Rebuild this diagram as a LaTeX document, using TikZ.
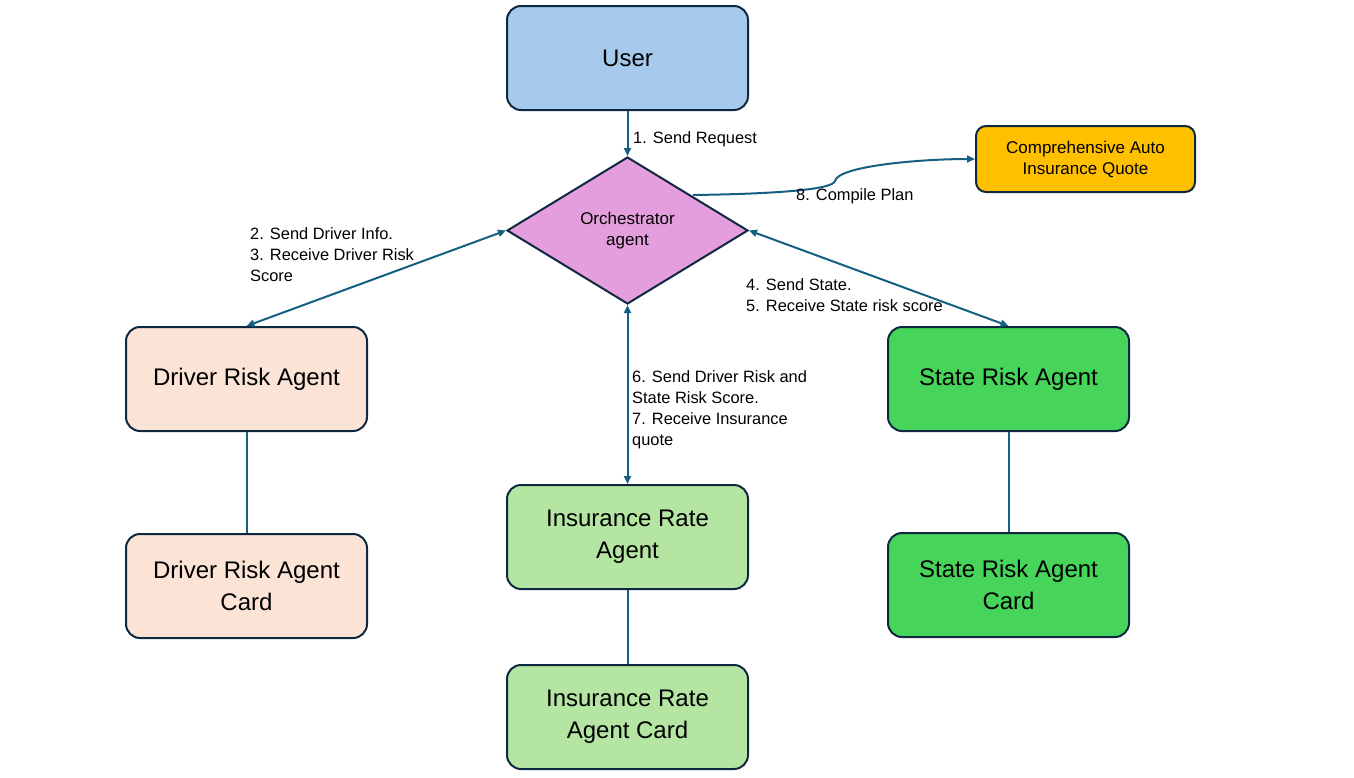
\documentclass[tikz,border=0pt]{standalone}
\usepackage{fontspec}
\setmainfont{Liberation Sans}
\usetikzlibrary{arrows.meta,shapes.geometric}
\definecolor{bordc}{HTML}{0E2841}
\definecolor{arrc}{HTML}{156082}
\definecolor{userc}{HTML}{A6CAEC}
\definecolor{orchc}{HTML}{E59EDD}
\definecolor{drvc}{HTML}{FBE3D6}
\definecolor{insc}{HTML}{B4E5A2}
\definecolor{statec}{HTML}{47D45A}
\definecolor{quotec}{HTML}{FFC000}
\tikzset{
  box/.style={draw=bordc,line width=2pt,rounded corners=14pt,minimum width=241pt,minimum height=104pt,
    align=center,font=\fontsize{24}{32}\selectfont,inner sep=0pt},
  conn/.style={draw=arrc,line width=2pt},
  arr/.style={conn,-{Triangle[length=8pt,width=7pt]}},
  barr/.style={conn,{Triangle[length=8pt,width=7pt]}-{Triangle[length=8pt,width=7pt]}},
  lbl/.style={font=\fontsize{16.4}{21}\selectfont,align=left,anchor=north west,inner sep=0pt},
}
\begin{document}
\begin{tikzpicture}[x=1pt,y=-1pt]
\useasboundingbox (0,0) rectangle (1354,777);
\node[box,fill=userc] (user) at (627.5,58) {User};
\node[diamond,draw=bordc,line width=2pt,fill=orchc,minimum width=241pt,minimum height=147pt,inner sep=0pt,
  aspect=1.64,align=center,font=\fontsize{17}{21}\selectfont] (orch) at (627.5,230.5) {Orchestrator\\agent};
\node[box,fill=quotec,minimum width=219pt,minimum height=66pt,rounded corners=10pt,font=\fontsize{17}{21}\selectfont] (quote) at (1085.5,159) {Comprehensive Auto\\Insurance Quote};
\node[box,fill=drvc] (drv) at (246.5,379) {Driver Risk Agent};
\node[box,fill=drvc] (drvcard) at (246.5,586) {Driver Risk Agent\\Card};
\node[box,fill=insc] (ins) at (627.5,537) {Insurance Rate\\Agent};
\node[box,fill=insc] (inscard) at (627.5,717) {Insurance Rate\\Agent Card};
\node[box,fill=statec] (st) at (1008.5,379) {State Risk Agent};
\node[box,fill=statec] (stcard) at (1008.5,585) {State Risk Agent\\Card};

\draw[arr] (user.south) -- (orch.north);
\draw[barr] (orch.west) -- (drv.north);
\draw[barr] (orch.east) -- (st.north);
\draw[barr] (orch.south) -- (ins.north);
\coordinate (cs) at (693,195);
\draw[arr] (cs) .. controls (770,194) and (833,190) .. (835,181) .. controls (838,166) and (920,159) .. (quote.west);
\draw[conn] (drv.south) -- (drvcard.north);
\draw[conn] (ins.south) -- (inscard.north);
\draw[conn] (st.south) -- (stcard.north);

\node[lbl] (l1) at (633,131) {1. Send Request};
\node[lbl] (l8) at (796,188) {8. Compile Plan};
\node[lbl] (l2) at (250,227) {2. Send Driver Info.\\3. Receive Driver Risk\\Score};
\node[lbl] (l4) at (746,278) {4. Send State.\\5. Receive State risk score};
\node[lbl] (l6) at (632,370) {6. Send Driver Risk and\\State Risk Score.\\7. Receive Insurance\\quote};
\end{tikzpicture}
\end{document}
